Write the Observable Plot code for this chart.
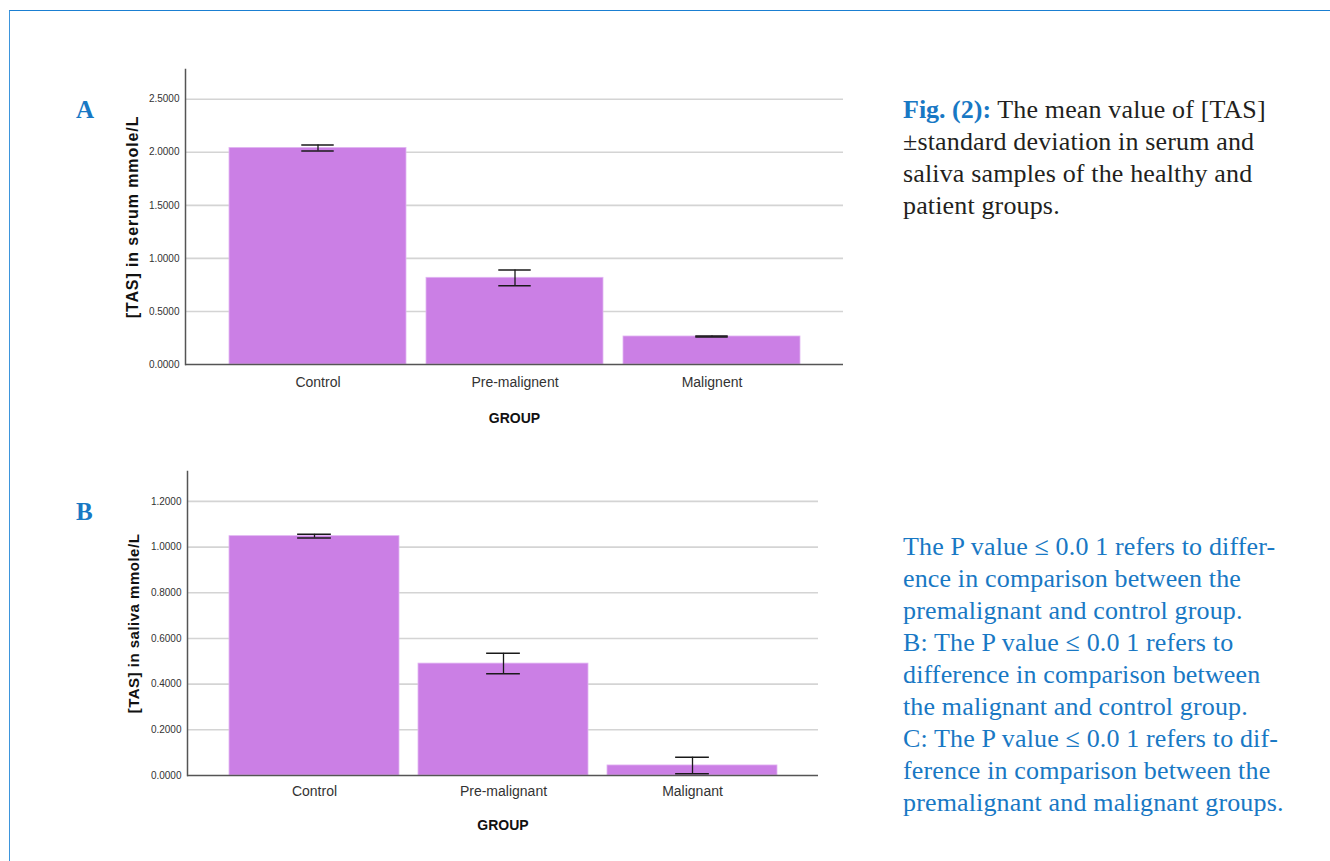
<!DOCTYPE html>
<html>
<head>
<meta charset="utf-8">
<script src="https://cdn.jsdelivr.net/npm/d3@7"></script>
<script src="https://cdn.jsdelivr.net/npm/@observablehq/plot@0.6"></script>
<style>
  html, body { margin: 0; padding: 0; background: #fff; }
  #page { position: relative; width: 1330px; height: 861px; overflow: hidden; background: #fff; }
  #frame { position: absolute; left: 9px; top: 10px; right: -5px; bottom: -5px;
           border-top: 1.5px solid #1a7fd2; border-left: 1.5px solid #3d95dc; }
  .panel { position: absolute; left: 0; }
  .letter { position: absolute; left: 76px; font-family: "Liberation Serif", "Times New Roman", serif;
            font-weight: bold; font-size: 25px; line-height: 32px; color: #1878c4; }
  .caption { position: absolute; left: 903px; font-family: "Liberation Serif", "Times New Roman", serif;
             font-size: 26px; letter-spacing: 0.15px; line-height: 32px; white-space: nowrap; }
  #fig { top: 94px; color: #231f20; }
  #fig b { color: #1878c4; letter-spacing: 0; }
  #notes { top: 531px; color: #1878c4; }
</style>
</head>
<body>
<div id="page">
  <div id="frame"></div>
  <div class="letter" style="top:94px">A</div>
  <div class="letter" style="top:496px">B</div>
  <div id="panelA" class="panel" style="top:0px"></div>
  <div id="panelB" class="panel" style="top:440px"></div>
  <div id="fig" class="caption">
    <div><b>Fig. (2):</b> The mean value of [TAS]</div>
    <div>±standard deviation in serum and</div>
    <div>saliva samples of the healthy and</div>
    <div>patient groups.</div>
  </div>
  <div id="notes" class="caption">
    <div>The P value ≤ 0.0 1 refers to differ-</div>
    <div>ence in comparison between the</div>
    <div>premalignant and control group.</div>
    <div>B: The P value ≤ 0.0 1 refers to</div>
    <div>difference in comparison between</div>
    <div>the malignant and control group.</div>
    <div>C: The P value ≤ 0.0 1 refers to dif-</div>
    <div>ference in comparison between the</div>
    <div>premalignant and malignant groups.</div>
  </div>
</div>
<script>
// Panel A: total antioxidant status in serum (mean ± SD)
const groupsA = ["Control", "Pre-malignent", "Malignent"];
const serumMean = [2.041, 0.817, 0.264];
const serumSD = [0.028, 0.074, 0.005];
const serumTicks = [0, 0.5, 1.0, 1.5, 2.0, 2.5];

// Panel B: total antioxidant status in saliva (mean ± SD)
const groupsB = ["Control", "Pre-malignant", "Malignant"];
const salivaMean = [1.048, 0.490, 0.044];
const salivaSD = [0.008, 0.045, 0.036];
const salivaTicks = [0, 0.2, 0.4, 0.6, 0.8, 1.0, 1.2];

const barColor = "#cb7fe5";
const axisColor = "#555";
const gridColor = "#d4d4d4";
const padInner = 0.102;
const padOuter = 0.215;

function panel({groups, means, sds, ticks, yMax, yTitle, width, height, ml, mr, mt, mb, cap,
                titleSize, titleSpacing, labelPad, groupDy}) {
  const rows = groups.map((g, i) => ({group: g, mean: means[i], lo: means[i] - sds[i], hi: means[i] + sds[i]}));
  // half of the band left over on each side of an error-bar cap
  const step = (width - ml - mr) / (groups.length - padInner + 2 * padOuter);
  const capInset = (step * (1 - padInner) - cap) / 2;
  const svg = Plot.plot({
    width, height,
    marginLeft: ml, marginRight: mr, marginTop: mt, marginBottom: mb,
    style: {fontFamily: "'Liberation Sans', Arial, sans-serif", color: "#333", background: "transparent"},
    x: {domain: groups, paddingInner: padInner, paddingOuter: padOuter},
    y: {domain: [0, yMax]},
    marks: [
      Plot.ruleY(ticks.filter(d => d > 0), {stroke: gridColor, strokeWidth: 1.6}),
      Plot.barY(rows, {x: "group", y: "mean", fill: barColor, stroke: "#e2b6f2", strokeWidth: 0.8}),
      Plot.ruleX(rows, {x: "group", y1: "lo", y2: "hi", stroke: "#1a1a1a", strokeWidth: 1.3}),
      Plot.tickY(rows, {x: "group", y: "lo", stroke: "#1a1a1a", strokeWidth: 1.5, insetLeft: capInset, insetRight: capInset}),
      Plot.tickY(rows, {x: "group", y: "hi", stroke: "#1a1a1a", strokeWidth: 1.5, insetLeft: capInset, insetRight: capInset}),
      Plot.ruleY([0], {stroke: axisColor, strokeWidth: 1.5}),
      Plot.frame({anchor: "left", stroke: axisColor, strokeWidth: 1.5}),
      Plot.axisY(ticks, {tickSize: 0, tickPadding: 6, tickFormat: d => d.toFixed(4), fontSize: 10, label: null}),
      Plot.axisX({tickSize: 0, tickPadding: labelPad, fontSize: 14, label: null}),
      Plot.text([yTitle], {frameAnchor: "left", dx: -53, rotate: -90, fontSize: titleSize, fontWeight: "bold", fill: "#111", textAnchor: "middle"}),
      Plot.text(["GROUP"], {frameAnchor: "bottom", dy: groupDy, fontSize: 14, fontWeight: "bold", fill: "#111"})
    ]
  });
  // widen the rotated axis title a little
  d3.select(svg).selectAll("text").filter(function () { return this.textContent === yTitle; })
    .style("letter-spacing", titleSpacing + "px");
  return svg;
}

document.getElementById("panelA").appendChild(panel({
  groups: groupsA, means: serumMean, sds: serumSD, ticks: serumTicks, yMax: 2.78,
  yTitle: "[TAS] in serum mmole/L", width: 870, height: 440,
  ml: 185, mr: 27, mt: 69, mb: 76, cap: 33, titleSize: 16, titleSpacing: 0.9,
  labelPad: 13, groupDy: 58
}));

document.getElementById("panelB").appendChild(panel({
  groups: groupsB, means: salivaMean, sds: salivaSD, ticks: salivaTicks, yMax: 1.331,
  yTitle: "[TAS] in saliva mmole/L", width: 870, height: 421,
  ml: 187, mr: 52, mt: 31, mb: 86, cap: 34, titleSize: 15, titleSpacing: 0.5,
  labelPad: 11, groupDy: 54
}));
</script>
</body>
</html>
